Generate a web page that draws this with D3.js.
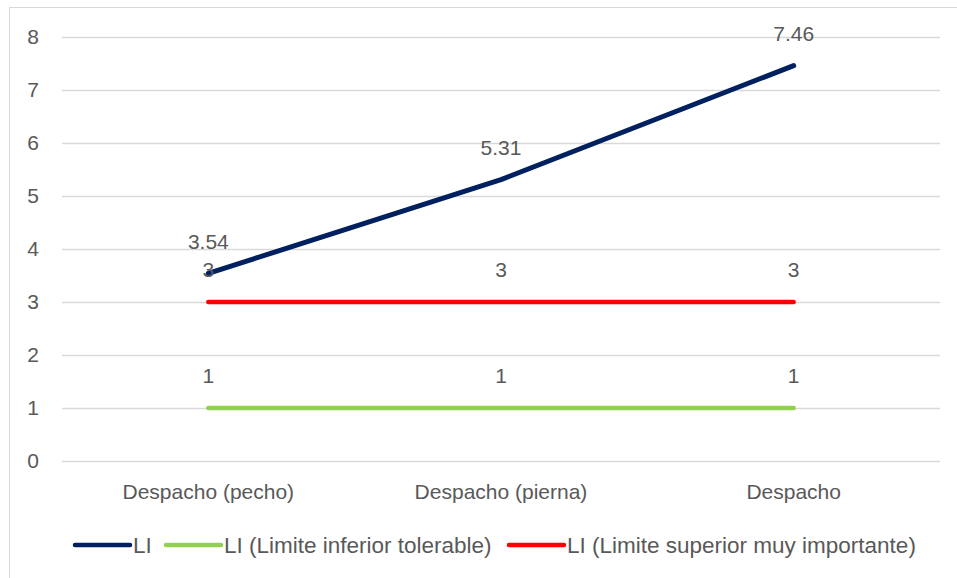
<!DOCTYPE html>
<meta charset="utf-8">
<style>
body { margin: 0; background: #fff; }
text { font-family: "Liberation Sans", sans-serif; fill: #595959; }
</style>
<svg width="957" height="578"></svg>
<script src="https://cdn.jsdelivr.net/npm/d3@7"></script>
<script>

var categories = ["Despacho (pecho)", "Despacho (pierna)", "Despacho"];
var seriesNames = ["LI", "LI (Limite inferior tolerable)", "LI (Limite superior muy importante)"];
var liValues = [3.54, 5.31, 7.46];
var inferiorValues = [1, 1, 1];
var superiorValues = [3, 3, 3];
var yTicks = [0, 1, 2, 3, 4, 5, 6, 7, 8];

var colors = ["#002060", "#92D050", "#FF0000"];

var series = [
  { name: seriesNames[0], values: liValues, color: colors[0] },
  { name: seriesNames[1], values: inferiorValues, color: colors[1] },
  { name: seriesNames[2], values: superiorValues, color: colors[2] }
];

var svg = d3.select("svg");

// chart border
svg.append("rect")
    .attr("x", 9.5).attr("y", 7.5)
    .attr("width", 960).attr("height", 580)
    .attr("fill", "none")
    .attr("stroke", "#d9d9d9");

var x = d3.scaleBand().domain(categories).range([62, 940]);
var y = d3.scaleLinear().domain([0, 8]).range([461, 37]);

// gridlines
svg.append("g").selectAll("line")
  .data(yTicks)
  .enter().append("line")
    .attr("x1", 62).attr("x2", 940)
    .attr("y1", function(d) { return y(d) + 0.5; })
    .attr("y2", function(d) { return y(d) + 0.5; })
    .attr("stroke", "#d9d9d9")
    .attr("stroke-width", 1.3);

svg.append("g").selectAll("text")
  .data(yTicks)
  .enter().append("text")
    .attr("x", 39)
    .attr("y", function(d) { return y(d); })
    .attr("dy", "0.35em")
    .attr("text-anchor", "end")
    .style("font-size", "21px")
    .text(function(d) { return d; });

svg.append("g").selectAll("text")
  .data(categories)
  .enter().append("text")
    .attr("x", function(d) { return x(d) + x.bandwidth() / 2; })
    .attr("y", 492)
    .attr("dy", "0.35em")
    .attr("text-anchor", "middle")
    .style("font-size", "21px")
    .text(function(d) { return d; });

var line = d3.line()
    .x(function(d, i) { return x(categories[i]) + x.bandwidth() / 2; })
    .y(function(d) { return y(d); });

// draw in order: red, green, then blue on top
[series[2], series[1], series[0]].forEach(function(s) {
  svg.append("path")
      .attr("d", line(s.values))
      .attr("fill", "none")
      .attr("stroke", s.color)
      .attr("stroke-width", s === series[0] ? 5 : 4.5)
      .attr("stroke-linecap", "round")
      .attr("stroke-linejoin", "round");
});

// data labels
series.forEach(function(s) {
  svg.append("g").selectAll("text")
    .data(s.values)
    .enter().append("text")
      .attr("x", function(d, i) { return x(categories[i]) + x.bandwidth() / 2; })
      .attr("y", function(d) { return y(d) - 32; })
      .attr("dy", "0.35em")
      .attr("text-anchor", "middle")
      .style("font-size", "21px")
      .text(function(d) { return d; });
});

// legend
var legendX = [75, 166, 509];
var legend = svg.append("g").selectAll("g")
  .data(series)
  .enter().append("g")
    .attr("transform", function(d, i) { return "translate(" + legendX[i] + ",545)"; });

legend.append("line")
    .attr("x1", 0).attr("x2", 55)
    .attr("stroke", function(d) { return d.color; })
    .attr("stroke-width", 4.5)
    .attr("stroke-linecap", "round");

legend.append("text")
    .attr("x", 58)
    .attr("dy", "0.35em")
    .style("font-size", "22.5px")
    .text(function(d) { return d.name; });

</script>
